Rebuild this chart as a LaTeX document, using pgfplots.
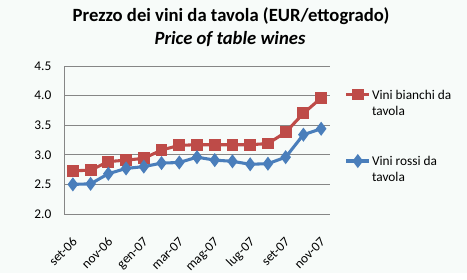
\documentclass[border=0pt]{standalone}
\usepackage{pgfplots}
\pgfplotsset{compat=1.18}
\usepackage{fontspec}
\setmainfont{Carlito}
\definecolor{bg}{RGB}{247,251,249}
\definecolor{cred}{RGB}{190,75,72}
\definecolor{cblue}{RGB}{74,126,187}
\definecolor{cgrid}{RGB}{134,134,134}
\begin{document}
\begin{tikzpicture}
\fill[bg] (0,0) rectangle (350.25pt,204.75pt);
\node[font=\fontsize{14}{16}\selectfont\bfseries] at (173.25pt,192.5pt) {Prezzo dei vini da tavola (EUR/ettogrado)};
\node[font=\fontsize{14}{16}\selectfont\bfseries\itshape] at (172.5pt,175.5pt) {Price of table wines};
\begin{axis}[
  at={(48pt,44.25pt)}, anchor=south west,
  scale only axis, width=199.5pt, height=111pt,
  xmin=-0.5, xmax=14.5, ymin=2, ymax=4.5,
  ytick={2,2.5,3,3.5,4,4.5},
  xtick={0,2,4,6,8,10,12,14},
  xticklabels={set-06,nov-06,gen-07,mar-07,mag-07,lug-07,set-07,nov-07},
  x tick label style={xshift=-1pt, yshift=-12pt, rotate=45, anchor=north east, font=\fontsize{10}{12}\selectfont},
  y tick label style={font=\fontsize{10}{12}\selectfont, xshift=-6pt},
  /pgf/number format/fixed, /pgf/number format/fixed zerofill, /pgf/number format/precision=1, /pgf/number format/assume math mode=true,
  major tick length=0pt,
  ymajorgrids, grid style={cgrid, line width=0.6pt},
  axis x line*=bottom, axis y line*=left,
  axis line style={cgrid, line width=0.6pt, -},
  legend style={at={(1.055,0.89)}, anchor=north west, draw=none, fill=none,
    font=\fontsize{10}{12}\selectfont, row sep=36pt, inner xsep=0pt,
    nodes={inner xsep=1pt}},
  legend cell align=left,
]
\addplot[cred, line width=2.3pt, mark=square*, mark size=3.3pt, mark options={solid}] coordinates {
(0,2.73) (1,2.74) (2,2.885) (3,2.91) (4,2.94) (5,3.08) (6,3.16) (7,3.17) (8,3.17) (9,3.17) (10,3.17) (11,3.19) (12,3.38) (13,3.70) (14,3.96)};
\addlegendentry{\begin{tabular}[t]{@{}l@{}}Vini bianchi da\\tavola\end{tabular}}
\addplot[cblue, line width=2.3pt, mark=diamond*, mark size=3.4pt, mark options={solid}] coordinates {
(0,2.50) (1,2.51) (2,2.68) (3,2.77) (4,2.80) (5,2.86) (6,2.87) (7,2.96) (8,2.91) (9,2.89) (10,2.84) (11,2.85) (12,2.96) (13,3.34) (14,3.44)};
\addlegendentry{\begin{tabular}[t]{@{}l@{}}Vini rossi da\\tavola\end{tabular}}
\end{axis}
\end{tikzpicture}
\end{document}
